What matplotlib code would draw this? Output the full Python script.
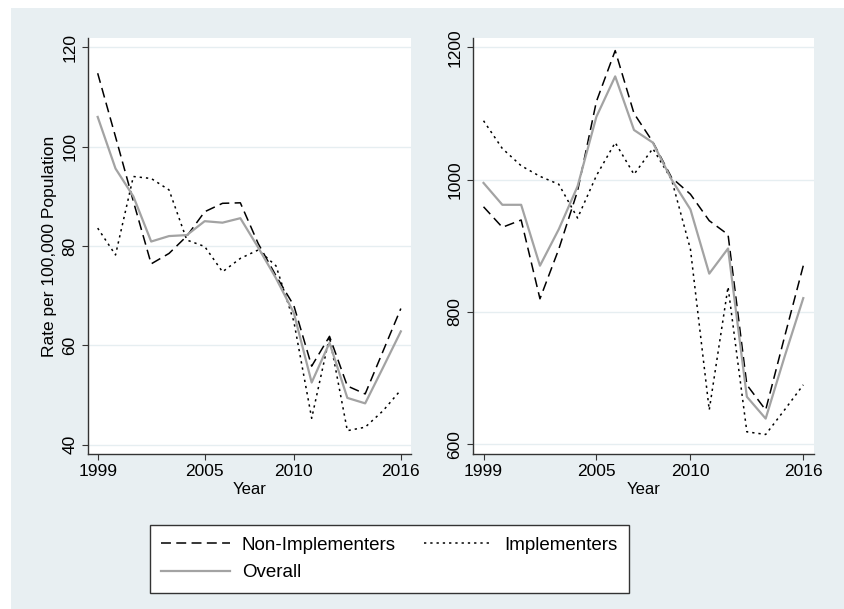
import matplotlib.pyplot as plt
from matplotlib.patches import Rectangle
from matplotlib.lines import Line2D

plt.rcParams['font.family'] = ['Liberation Sans', 'DejaVu Sans']

# yearly rates, 1999-2016
years = [1999, 2000, 2001, 2002, 2003, 2004, 2005, 2006, 2007,
         2008, 2009, 2010, 2011, 2012, 2013, 2014, 2015, 2016]

# left panel: rate per 100,000 population
non_left = [114.8, 102.0, 89.0, 76.4, 78.5, 82.0, 86.9, 88.6, 88.7,
            80.5, 74.0, 68.0, 55.8, 61.8, 51.8, 50.2, 58.8, 67.4]
impl_left = [83.6, 78.2, 94.0, 93.6, 91.3, 81.2, 79.9, 74.8, 77.5,
             79.2, 76.0, 64.8, 45.3, 61.7, 42.8, 43.5, 46.8, 51.0]
overall_left = [106.0, 95.6, 90.0, 80.9, 82.0, 82.2, 85.0, 84.7, 85.6,
                79.7, 73.5, 66.5, 52.5, 60.5, 49.4, 48.3, 55.5, 62.8]

# right panel
non_right = [959, 928, 939, 820, 895, 983, 1118, 1195, 1100,
             1057, 1003, 978, 938, 917, 690, 652, 762, 870]
impl_right = [1089, 1047, 1021, 1005, 993, 942, 1006, 1056, 1008,
              1047, 1000, 895, 652, 838, 619, 615, 652, 690]
overall_right = [995, 962, 962, 870, 925, 990, 1095, 1156, 1075,
                 1056, 1000, 955, 858, 896, 672, 639, 732, 821]

xticks = [1999, 2005, 2010, 2016]
yticks_left = [40, 60, 80, 100, 120]
yticks_right = [600, 800, 1000, 1200]

bg = '#e8eff2'
axis_col = '#333333'
W, H = 844, 609

fig = plt.figure(figsize=(W / 100, H / 100), dpi=100, facecolor='white')
fig.patches.append(Rectangle((11 / W, 0), 1 - 11 / W, 1 - 8 / H,
                             transform=fig.transFigure, facecolor=bg,
                             edgecolor='none', zorder=-10))

ax1 = fig.add_axes([87.7 / W, 1 - 454 / H, (411 - 87.7) / W, (454 - 38) / H])
ax2 = fig.add_axes([473 / W, 1 - 454 / H, (814 - 473) / W, (454 - 38) / H])


def draw_panel(ax, non, impl, overall, ylim, yticks):
    ax.plot(years, non, color='black', lw=1.1, dashes=(6.5, 3.5))
    ax.plot(years, impl, color='black', lw=1.1, dashes=(1.5, 2.6))
    ax.plot(years, overall, color='#a3a3a3', lw=1.6)

    ax.set_xlim(1998.44, 2016.57)
    ax.set_ylim(*ylim)
    ax.set_xticks(xticks)
    ax.set_yticks(yticks)
    ax.yaxis.grid(True, color='#e6eef1', lw=1.0)
    ax.set_axisbelow(True)

    for side in ['top', 'right']:
        ax.spines[side].set_visible(False)
    for side in ['left', 'bottom']:
        ax.spines[side].set_color(axis_col)
        ax.spines[side].set_linewidth(1.0)

    ax.tick_params(direction='out', length=4, width=0.8, color=axis_col,
                   labelsize=12.5, pad=3.5)
    ax.tick_params(axis='y', labelrotation=90)
    for lbl in ax.get_yticklabels():
        lbl.set_va('center')
    ax.set_xlabel('Year', fontsize=12, labelpad=1.5)


draw_panel(ax1, non_left, impl_left, overall_left, (38.1, 121.9), yticks_left)
draw_panel(ax2, non_right, impl_right, overall_right, (585.5, 1214), yticks_right)
ax1.set_ylabel('Rate per 100,000 Population', fontsize=12.5, labelpad=4)

handles = [
    Line2D([], [], color='black', lw=1.1, dashes=(6.5, 3.5)),
    Line2D([], [], color='#a3a3a3', lw=1.6),
    Line2D([], [], color='black', lw=1.1, dashes=(1.5, 2.6)),
]
labels = ['Non-Implementers', 'Overall', 'Implementers']
leg = fig.legend(handles, labels, loc='center',
                 bbox_to_anchor=(389.5 / W, 1 - 559 / H), ncol=2,
                 frameon=True, fancybox=False, edgecolor=axis_col,
                 framealpha=1, fontsize=13.5, handlelength=3.65,
                 handletextpad=0.65, columnspacing=1.5, borderpad=0.6,
                 labelspacing=0.55, borderaxespad=0)
leg.get_frame().set_linewidth(1.0)

fig.savefig('out.png', dpi=100, facecolor=fig.get_facecolor())
